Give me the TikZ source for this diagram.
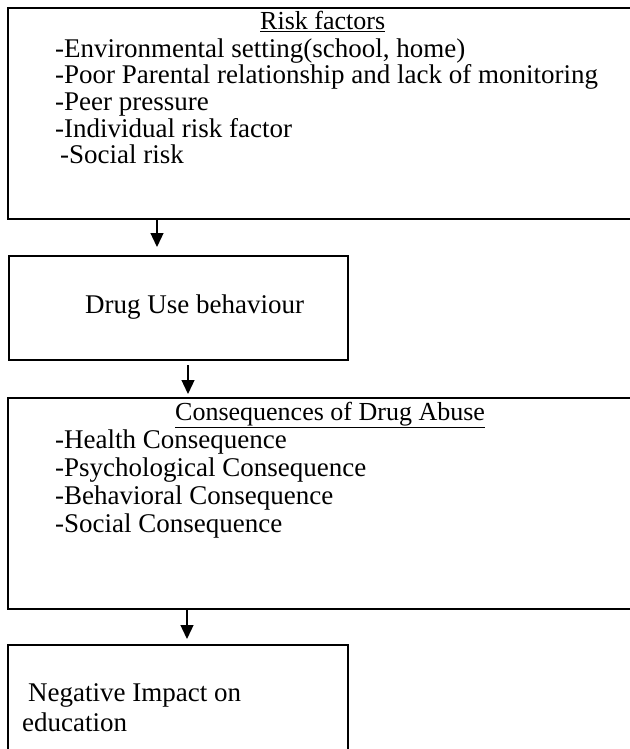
\documentclass[tikz,border=0pt]{standalone}
\usepackage{fontspec}
\setmainfont{Liberation Serif}
\usetikzlibrary{arrows.meta}

\begin{document}
\begin{tikzpicture}[x=1pt, y=-1pt,
  box/.style={draw, line width=2pt, anchor=north west, inner sep=0pt},
  txt/.style={anchor=base west, inner sep=0pt, font=\fontsize{27}{28}\selectfont},
  head/.style={txt, font=\fontsize{26}{28}\selectfont},
  flow/.style={line width=1.3pt, -{Triangle[width=13pt,length=14pt]}}]
\useasboundingbox (0,0) rectangle (629,749);

\node[box, minimum width=660pt, minimum height=211pt] (risk) at (7,7) {};
\node[box, minimum width=339pt, minimum height=104pt] (drug) at (8,255) {};
\node[box, minimum width=660pt, minimum height=211pt] (cons) at (7,397) {};
\node[box, minimum width=340pt, minimum height=130pt] (impact) at (7,644) {};

\node[head] (risktitle) at (260,30) {\underline{Risk factors}};
\node[txt] (env) at (55,58) {-Environmental setting(school, home)};
\node[txt] (parent) at (55,84) {-Poor Parental relationship and lack of monitoring};
\node[txt] (peer) at (55,111) {-Peer pressure};
\node[txt] (indiv) at (55,137) {-Individual risk factor};
\node[txt] (socrisk) at (60,163) {-Social risk};

\node[txt] (druguse) at (85,313) {Drug Use behaviour};

\node[head] (constitle) at (175,420) {\underline{Consequences of Drug Abuse}};
\node[txt] (health) at (55,448) {-Health Consequence};
\node[txt] (psych) at (55,476) {-Psychological Consequence};
\node[txt] (behav) at (55,504) {-Behavioral Consequence};
\node[txt] (social) at (55,532) {-Social Consequence};

\node[txt] (negative) at (28,701) {Negative Impact on};
\node[txt] (educ) at (22,731) {education};

\coordinate (a1) at (157,0);
\coordinate (a2) at (188,0);
\coordinate (a3) at (187,0);

\draw[flow, shorten >=8pt] (risk.south -| a1) -- (drug.north -| a1);
\draw[flow, shorten <=4pt, shorten >=3pt] (drug.south -| a2) -- (cons.north -| a2);
\draw[flow, shorten >=5pt] (cons.south -| a3) -- (impact.north -| a3);
\end{tikzpicture}
\end{document}
